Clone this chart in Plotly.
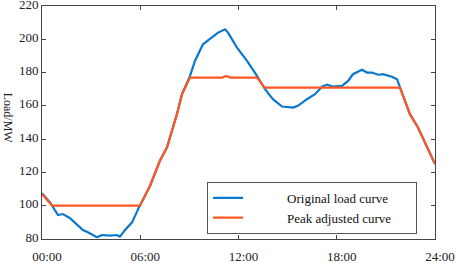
import plotly.graph_objects as go

orig_hours = [0, 0.49, 0.98, 1.28, 1.71, 2.14, 2.5, 2.8, 3.36, 3.66, 4.15, 4.58, 4.76, 5.07, 5.5, 5.92,
              6.6, 7.2, 7.63, 8.24, 8.55, 9.04, 9.34, 9.83, 10.38, 10.75, 11.18, 11.36, 11.91, 12.52,
              13.13, 13.62, 14.1, 14.66, 15.33, 15.63, 16.18, 16.67, 17.1, 17.4, 17.77, 18.32, 18.69,
              18.99, 19.54, 19.85, 20.15, 20.52, 20.82, 21.37, 21.68, 21.86, 22.47, 22.96, 23.5, 24]
orig_load = [107.5, 102, 94.4, 95, 92.5, 88.4, 85.4, 84, 81, 82.4, 82, 82.4, 81.4, 85.4, 90, 99,
             112, 127, 135, 155, 167, 178, 187, 197, 201, 204, 206, 204, 195, 187,
             178, 170, 164, 159.6, 159, 160, 164, 167, 171.5, 172.8, 171.6, 172, 175,
             179, 181.7, 180, 180, 178.7, 179, 177.5, 176, 171, 155, 147, 135, 125]

adj_hours = [0, 0.61, 5.98, 6.6, 7.2, 7.63, 8.24, 8.55, 9.04, 11.0, 11.24, 11.5, 13.13, 13.6,
             21.86, 22.47, 22.96, 23.5, 24]
adj_load = [107, 100, 100, 112, 127, 135, 155, 167, 177, 177, 178, 177, 177, 171,
            171, 155, 147, 135, 125]

x_tick_vals = [0, 6, 12, 18, 24]
x_tick_text = ["00:00", "06:00", "12:00", "18:00", "24:00"]
y_tick_vals = [80, 100, 120, 140, 160, 180, 200, 220]

pad_l = "\u00a0" * 12
pad_r = "\u00a0" * 6
fig = go.Figure()
fig.add_trace(go.Scatter(x=orig_hours, y=orig_load, mode="lines",
                         name=pad_l + "Original load curve" + pad_r,
                         line=dict(color="#0A78CC", width=2.2)))
fig.add_trace(go.Scatter(x=adj_hours, y=adj_load, mode="lines",
                         name=pad_l + "Peak adjusted curve" + pad_r,
                         line=dict(color="#FF5722", width=2.2)))

serif = "Liberation Serif, Times New Roman, serif"
axis_common = dict(showline=True, linecolor="#444", linewidth=1, mirror="ticks",
                   ticks="inside", ticklen=4, tickcolor="#444", showgrid=False, zeroline=False,
                   automargin=False, ticklabeloverflow="allow",
                   tickfont=dict(family=serif, size=13, color="#222"))
fig.update_xaxes(range=[0, 24], tickvals=x_tick_vals, ticktext=x_tick_text,
                 ticklabelshift=5, ticklabelstandoff=5, **axis_common)
fig.update_yaxes(range=[80, 220.001], tickvals=y_tick_vals, ticklabelshift=-2, **axis_common)

fig.add_annotation(text="Load/MW", textangle=90, xref="paper", yref="paper",
                   x=-0.086, y=0.52, xanchor="center", yanchor="middle", showarrow=False,
                   font=dict(family=serif, size=12, color="#222"))

fig.update_layout(
    width=457, height=263,
    margin=dict(l=42, r=22, t=6, b=24),
    font=dict(family=serif),
    plot_bgcolor="white", paper_bgcolor="white",
    showlegend=True,
    legend=dict(x=0.42, y=0.022, xanchor="left", yanchor="bottom",
                bgcolor="white", bordercolor="#555", borderwidth=1,
                font=dict(family=serif, size=13, color="#111"),
                tracegroupgap=0, itemwidth=30),
)

fig.write_html("out.html", config={"displayModeBar": False},
               post_script="document.body.style.margin='0';document.body.style.overflow='hidden';")
